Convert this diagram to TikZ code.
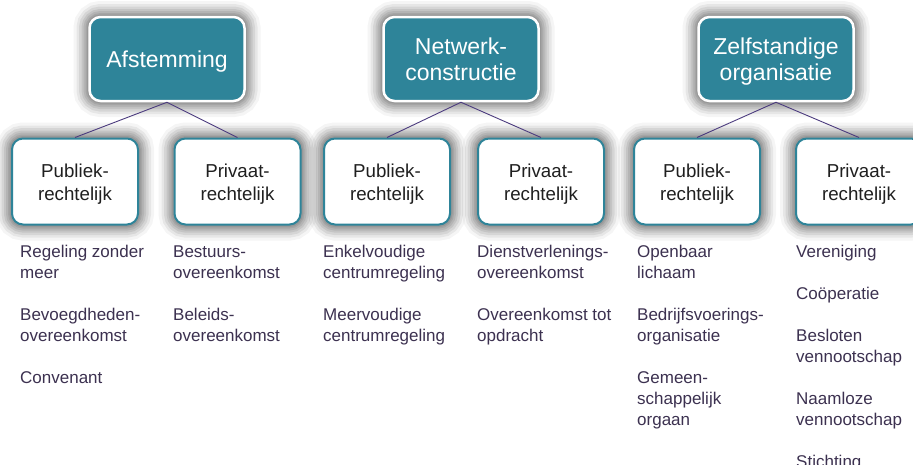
\documentclass[tikz,border=0pt]{standalone}
\usepackage{fontspec}
\setmainfont{Liberation Sans}
\definecolor{tealbox}{HTML}{2E8499}
\definecolor{itemtxt}{HTML}{3C3150}
\definecolor{linkcol}{HTML}{4B3B7E}
\begin{document}
\begin{tikzpicture}[x=1pt,y=-1pt,
  softshadow/.style={
    preaction={draw=black, line width=32pt, draw opacity=0.04},
    preaction={draw=black, line width=26pt, draw opacity=0.06},
    preaction={draw=black, line width=21pt, draw opacity=0.07},
    preaction={draw=black, line width=16pt, draw opacity=0.08},
    preaction={draw=black, line width=12pt, draw opacity=0.08},
    preaction={draw=black, line width=8pt, draw opacity=0.08},
    preaction={draw=black, line width=5pt, draw opacity=0.08}},
  topbox/.style={draw=white, line width=2.5pt, fill=tealbox, rounded corners=11pt,
    minimum width=155pt, minimum height=84pt, text=white, align=center, inner sep=0pt,
    font=\fontsize{23}{26}\selectfont, text depth=0pt, softshadow},
  subbox/.style={draw=tealbox, line width=2pt, fill=white, rounded corners=11pt,
    minimum width=126pt, minimum height=86pt, align=center, inner sep=0pt, text=black!88,
    font=\fontsize{18.7}{23}\selectfont, text depth=0pt, text height=38.6pt, softshadow},
  item/.style={anchor=north west, align=left, inner sep=0pt, text=itemtxt,
    font=\fontsize{17}{21}\selectfont},
  link/.style={draw=linkcol, line width=0.9pt}]
\fill[white] (0,0) rectangle (913,464);
\useasboundingbox (0,0) rectangle (913,464);

% top boxes
\node[topbox] (A) at (167,59) {Afstemming};
\node[topbox] (N) at (461,59) {Netwerk-\\constructie};
\node[topbox] (Z) at (776,59) {Zelfstandige\\organisatie};

% sub boxes
\node[subbox] (A1) at (75,181.5) {Publiek-\\rechtelijk};
\node[subbox] (A2) at (237.5,181.5) {Privaat-\\rechtelijk};
\node[subbox] (N1) at (387,181.5) {Publiek-\\rechtelijk};
\node[subbox] (N2) at (541,181.5) {Privaat-\\rechtelijk};
\node[subbox] (Z1) at (697,181.5) {Publiek-\\rechtelijk};
\node[subbox] (Z2) at (859,181.5) {Privaat-\\rechtelijk};

% connectors
\draw[link] (A.south) -- (A1.north);
\draw[link] (A.south) -- (A2.north);
\draw[link] (N.south) -- (N1.north);
\draw[link] (N.south) -- (N2.north);
\draw[link] (Z.south) -- (Z1.north);
\draw[link] (Z.south) -- (Z2.north);

% items (top = first baseline - 14.7)
\node[item] (a11) at (20,242.3) {\strut Regeling zonder\\meer};
\node[item] (a12) at (20,305.3) {\strut Bevoegdheden-\\overeenkomst};
\node[item] (a13) at (20,368.3) {\strut Convenant};
\node[item] (a21) at (173,242.3) {\strut Bestuurs-\\overeenkomst};
\node[item] (a22) at (173,305.3) {\strut Beleids-\\overeenkomst};
\node[item] (n11) at (323,242.3) {\strut Enkelvoudige\\centrumregeling};
\node[item] (n12) at (323,305.3) {\strut Meervoudige\\centrumregeling};
\node[item] (n21) at (477,242.3) {\strut Dienstverlenings-\\overeenkomst};
\node[item] (n22) at (477,305.3) {\strut Overeenkomst tot\\opdracht};
\node[item] (z11) at (637,242.3) {\strut Openbaar\\lichaam};
\node[item] (z12) at (637,305.3) {\strut Bedrijfsvoerings-\\organisatie};
\node[item] (z13) at (637,368.3) {\strut Gemeen-\\schappelijk\\orgaan};
\node[item] (z21) at (796,242.3) {\strut Vereniging};
\node[item] (z22) at (796,284.3) {\strut Coöperatie};
\node[item] (z23) at (796,326.3) {\strut Besloten\\vennootschap};
\node[item] (z24) at (796,389.3) {\strut Naamloze\\vennootschap};
\node[item] (z25) at (796,452.3) {\strut Stichting};
\end{tikzpicture}
\end{document}
